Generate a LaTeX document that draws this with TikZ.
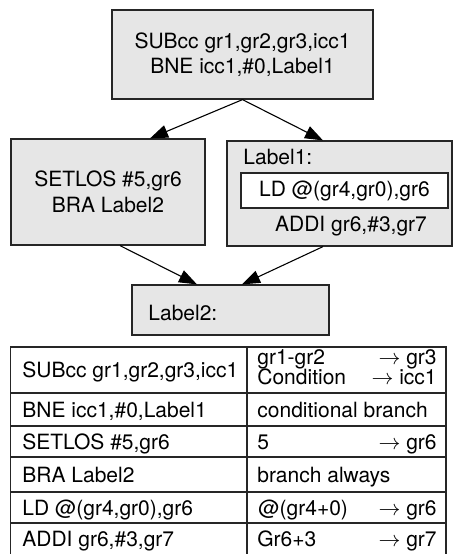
\documentclass[tikz,border=0pt]{standalone}
\usepackage{fontspec}
\setmainfont{TeX Gyre Heros}
\usepackage{tikz}
\usetikzlibrary{arrows.meta,calc}
\definecolor{boxgray}{RGB}{230,230,230}

\begin{document}
\begin{tikzpicture}[x=0.5pt, y=-0.5pt, font=\fontsize{10.5}{12.5}\selectfont,
  blk/.style={draw=black!85, line width=0.6pt, fill=boxgray, align=center, inner sep=0pt},
  flow/.style={line width=0.55pt, -{Triangle[length=9pt,width=6.5pt]}},
  cell/.style={anchor=base west, inner sep=0pt},
  res/.style={anchor=base east, inner sep=0pt}]
\useasboundingbox (0,0) rectangle (455,554);
% basic blocks
\node[blk, minimum width=130.5pt, minimum height=44.5pt] (top) at (242.5,54.5) {SUBcc gr1,gr2,gr3,icc1\\BNE icc1,\#0,Label1};
\node[blk, minimum width=97pt, minimum height=53pt, font=\fontsize{10.5}{13}\selectfont] (left) at (108,192) {SETLOS \#5,gr6\\BRA Label2};
\node[blk, minimum width=112.5pt, minimum height=52.5pt] (right) at (339.5,193.5) {};
\node[cell] (lbl1) at (243,164.5) {Label1:};
\node[blk, fill=white, minimum width=103.5pt, minimum height=17.5pt] (ld) at (344.5,190.5) {LD @(gr4,gr0),gr6};
\node[inner sep=0pt] (addi) at (351,226) {ADDI gr6,\#3,gr7};
\node[blk, minimum width=98.5pt, minimum height=25pt] (join) at (230.5,310) {};
\node[cell] (lbl2) at (148,320.5) {Label2:};
% edges
\draw[flow] (top.south) -- ($(left.north)+(42,0)$);
\draw[flow] (top.south) -- ($(right.north)+(-16.5,0)$);
\draw[flow] ($(left.south)+(12,0)$) -- ($(join.north)+(-33.5,0)$);
\draw[flow] ($(right.south)+(-16.5,0)$) -- ($(join.north)+(11.5,0)$);
% table
\draw[black!85, line width=0.6pt] (10.5,580) |- (446,347) -- (446,580);
\draw[black!85, line width=0.6pt] (247,347) -- (247,580);
\foreach \yy in {393,426,457,492,523}
  \draw[black!85, line width=0.6pt] (10.5,\yy) -- (446,\yy);
\node[cell] (i1) at (22,377.5) {SUBcc gr1,gr2,gr3,icc1};
\node[cell] (i2) at (22,417) {BNE icc1,\#0,Label1};
\node[cell] (i3) at (22,449) {SETLOS \#5,gr6};
\node[cell] (i4) at (22,482) {BRA Label2};
\node[cell] (i5) at (22,515) {LD @(gr4,gr0),gr6};
\node[cell] (i6) at (22,546) {ADDI gr6,\#3,gr7};
\node[cell] (m1a) at (257,364) {gr1-gr2};
\node[res] (r1a) at (437,364) {$\rightarrow$ gr3};
\node[cell] (m1b) at (257,384) {Condition};
\node[res] (r1b) at (437,384) {$\rightarrow$ icc1};
\node[cell] (m2) at (257,417) {conditional branch};
\node[cell] (m3) at (257,449) {5};
\node[res] (r3) at (437,449) {$\rightarrow$ gr6};
\node[cell] (m4) at (257,482) {branch always};
\node[cell] (m5) at (258,515) {@(gr4+0)};
\node[res] (r5) at (437,515) {$\rightarrow$ gr6};
\node[cell] (m6) at (257,546) {Gr6+3};
\node[res] (r6) at (437,546) {$\rightarrow$ gr7};
\end{tikzpicture}
\end{document}
